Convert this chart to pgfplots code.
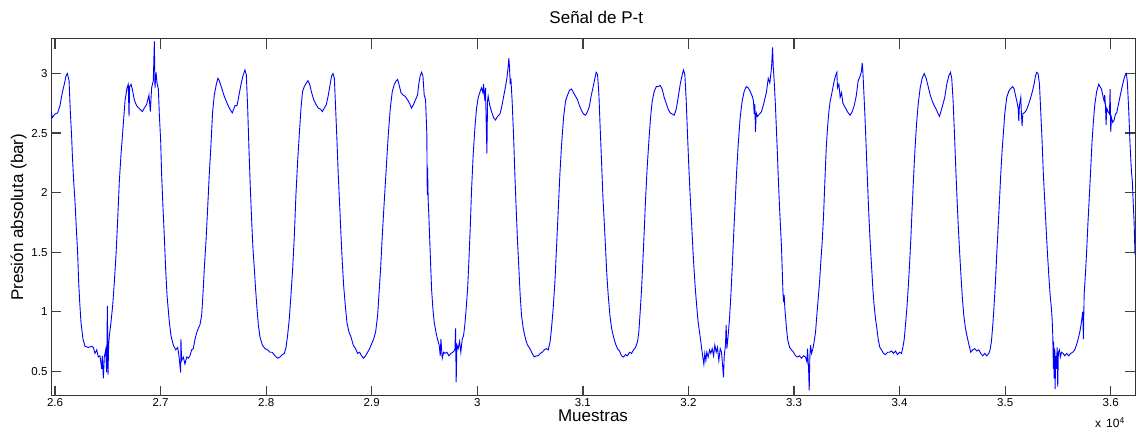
\documentclass[border=0pt]{standalone}
\usepackage{fontspec}
\setmainfont{Liberation Sans}
\usepackage{pgfplots}
\pgfplotsset{compat=1.18}
\begin{document}
\begin{tikzpicture}
\path[use as bounding box] (0pt,0pt) rectangle (1137pt,431pt);
\begin{axis}[
  at={(51pt,35.3pt)}, anchor=south west,
  scale only axis, width=1084pt, height=356.7pt,
  xmin=25962, xmax=36230, ymin=0.295, ymax=3.29,
  xtick={26000,27000,28000,29000,30000,31000,32000,33000,34000,35000,36000},
  xticklabels={2.6,2.7,2.8,2.9,3,3.1,3.2,3.3,3.4,3.5,3.6},
  ytick={0.5,1,1.5,2,2.5,3},
  yticklabels={0.5,1,1.5,2,2.5,3},
  scaled ticks=false,
  tick align=inside,
  major tick length=10pt,
  tick style={black!75, line width=1.3pt},
  axis line style={black!80, line width=1pt},
  ticklabel style={font=\fontsize{11.5}{13}\selectfont, text=black},
  xticklabel style={anchor=base, yshift=-10.5pt},
  yticklabel style={anchor=east, xshift=0pt},
  /pgf/number format/assume math mode=true,
  title={Señal de P-t},
  title style={at={(axis description cs:0.503,1.028)}, anchor=base, font=\fontsize{17}{20}\selectfont},
  xlabel={Muestras},
  xlabel style={at={(axis description cs:0.5,-0.0729)}, anchor=base, font=\fontsize{17}{20}\selectfont},
  ylabel={Presión absoluta (bar)},
  ylabel style={at={(axis description cs:-0.0258,0.5)}, anchor=base, font=\fontsize{17}{20}\selectfont},
]
\pgfplotsinvokeforeach{26000,27000,28000,29000,30000,31000,32000,33000,34000,35000,36000}{
  \draw[black!75, line width=1.3pt] (axis cs:#1,0.295) -- ++(0pt,10pt);
  \draw[black!75, line width=1.3pt] (axis cs:#1,3.29) -- ++(0pt,-10pt);
}
\pgfplotsinvokeforeach{0.5,1,1.5,2,2.5,3}{
  \draw[black!75, line width=1.3pt] (axis cs:25962,#1) -- ++(10pt,0pt);
  \draw[black!75, line width=1.3pt] (axis cs:36230,#1) -- ++(-10pt,0pt);
}
\addplot[color=blue, line width=0.9pt, mark=none] coordinates {
(25962,2.69) (25974,2.63) (26000,2.66) (26025,2.67) (26047,2.73) (26069,2.84) (26088,2.91) (26104,2.98) (26117,3.00) (26133,2.94)
(26145,2.68) (26158,2.46) (26164,2.32) (26177,2.09) (26189,1.93) (26202,1.70) (26215,1.48) (26224,1.25) (26234,1.08) (26246,0.91)
(26265,0.77) (26284,0.71) (26316,0.70) (26347,0.71) (26363,0.70) (26379,0.65) (26395,0.68) (26410,0.62) (26426,0.63) (26442,0.52)
(26448,0.63) (26458,0.44) (26467,0.62) (26480,0.68) (26489,0.49) (26496,1.05) (26502,0.47) (26508,0.72) (26515,0.80) (26530,0.91)
(26546,1.05) (26562,1.25) (26578,1.48) (26593,1.76) (26609,2.09) (26625,2.32) (26644,2.54) (26663,2.77) (26682,2.88) (26694,2.91)
(26701,2.64) (26707,2.89) (26720,2.91) (26732,2.87) (26751,2.78) (26773,2.73) (26805,2.70) (26827,2.68) (26846,2.71) (26868,2.74)
(26890,2.82) (26903,2.68) (26915,2.88) (26931,2.94) (26941,3.27) (26947,2.88) (26957,3.01) (26966,2.92) (26979,2.87) (26988,2.66)
(27001,2.43) (27010,2.15) (27023,1.87) (27035,1.64) (27048,1.36) (27061,1.14) (27080,0.94) (27098,0.80) (27121,0.72) (27143,0.68)
(27162,0.70) (27174,0.63) (27190,0.49) (27193,0.77) (27199,0.59) (27215,0.62) (27231,0.56) (27247,0.62) (27263,0.61) (27278,0.63)
(27294,0.68) (27310,0.69) (27326,0.77) (27341,0.82) (27357,0.86) (27373,0.89) (27389,0.97) (27401,1.14) (27414,1.36) (27430,1.59)
(27446,1.87) (27461,2.15) (27477,2.40) (27493,2.68) (27509,2.82) (27528,2.91) (27543,2.96) (27556,2.94) (27578,2.88) (27603,2.81)
(27635,2.74) (27657,2.70) (27679,2.67) (27705,2.73) (27724,2.73) (27743,2.82) (27762,2.91) (27780,2.98) (27799,3.03) (27812,2.99)
(27825,2.71) (27837,2.37) (27850,2.04) (27863,1.76) (27875,1.53) (27888,1.36) (27900,1.19) (27913,1.03) (27926,0.89) (27941,0.79)
(27964,0.72) (27989,0.69) (28014,0.68) (28036,0.66) (28058,0.66) (28083,0.63) (28109,0.61) (28131,0.62) (28153,0.64) (28172,0.65)
(28188,0.70) (28203,0.80) (28219,0.94) (28235,1.14) (28251,1.36) (28267,1.64) (28282,1.98) (28298,2.26) (28314,2.49) (28330,2.71)
(28345,2.85) (28361,2.89) (28380,2.92) (28396,2.94) (28412,2.91) (28431,2.84) (28450,2.78) (28472,2.74) (28494,2.71) (28516,2.70)
(28532,2.68) (28551,2.71) (28570,2.74) (28589,2.82) (28608,2.92) (28620,2.98) (28633,3.00) (28646,2.96) (28658,2.71) (28671,2.43)
(28683,2.15) (28696,1.90) (28709,1.64) (28721,1.42) (28734,1.22) (28750,1.05) (28765,0.91) (28784,0.83) (28803,0.79) (28825,0.72)
(28847,0.69) (28866,0.65) (28885,0.66) (28904,0.63) (28923,0.61) (28942,0.63) (28961,0.66) (28980,0.69) (28999,0.73) (29018,0.77)
(29037,0.83) (29056,0.97) (29068,1.14) (29084,1.36) (29100,1.64) (29119,1.93) (29138,2.21) (29157,2.49) (29176,2.71) (29195,2.85)
(29214,2.91) (29233,2.94) (29245,2.95) (29258,2.91) (29277,2.84) (29296,2.82) (29315,2.81) (29346,2.77) (29358,2.75) (29377,2.71)
(29396,2.74) (29415,2.78) (29434,2.82) (29447,2.92) (29459,2.98) (29472,3.01) (29485,2.98) (29497,2.82) (29510,2.78) (29522,2.49)
(29526,1.98) (29529,2.21) (29535,1.93) (29541,1.81) (29548,1.64) (29557,1.42) (29567,1.19) (29579,1.03) (29592,0.91) (29608,0.83)
(29623,0.77) (29639,0.72) (29649,0.63) (29655,0.77) (29668,0.61) (29681,0.66) (29693,0.65) (29712,0.66) (29731,0.63) (29750,0.65)
(29769,0.66) (29788,0.68) (29794,0.86) (29800,0.41) (29807,0.72) (29819,0.69) (29832,0.75) (29844,0.66) (29857,0.77) (29870,0.80)
(29882,0.89) (29895,1.03) (29908,1.19) (29920,1.42) (29933,1.70) (29945,2.01) (29961,2.32) (29977,2.54) (29993,2.71) (30009,2.80)
(30027,2.85) (30040,2.88) (30053,2.84) (30059,2.91) (30072,2.77) (30078,2.88) (30084,2.60) (30091,2.33) (30097,2.77) (30103,2.81)
(30116,2.74) (30135,2.68) (30154,2.63) (30173,2.61) (30192,2.64) (30214,2.66) (30229,2.71) (30248,2.80) (30267,2.89) (30280,2.96)
(30293,3.06) (30299,3.13) (30305,3.05) (30312,2.91) (30318,2.96) (30330,2.77) (30343,2.49) (30356,2.15) (30368,1.87) (30381,1.59)
(30394,1.36) (30406,1.14) (30419,0.97) (30435,0.86) (30457,0.77) (30476,0.72) (30498,0.69) (30520,0.65) (30539,0.62) (30558,0.63)
(30577,0.63) (30596,0.65) (30615,0.66) (30634,0.68) (30653,0.69) (30672,0.68) (30690,0.75) (30703,0.86) (30719,1.03) (30735,1.25)
(30750,1.53) (30766,1.84) (30782,2.15) (30798,2.40) (30817,2.63) (30836,2.77) (30855,2.82) (30874,2.86) (30893,2.87) (30911,2.84)
(30930,2.81) (30949,2.78) (30968,2.73) (30987,2.69) (31006,2.66) (31025,2.65) (31044,2.68) (31063,2.73) (31076,2.80) (31095,2.88)
(31114,2.96) (31126,3.01) (31139,2.99) (31152,2.82) (31164,2.54) (31177,2.26) (31189,1.98) (31202,1.76) (31215,1.53) (31227,1.31)
(31240,1.14) (31256,0.97) (31272,0.86) (31290,0.79) (31309,0.73) (31328,0.69) (31347,0.67) (31366,0.63) (31385,0.62) (31404,0.64)
(31423,0.63) (31442,0.66) (31461,0.65) (31480,0.68) (31499,0.70) (31518,0.75) (31530,0.83) (31543,1.00) (31556,1.19) (31568,1.42)
(31581,1.67) (31593,1.93) (31609,2.21) (31625,2.43) (31641,2.63) (31657,2.77) (31676,2.85) (31695,2.89) (31713,2.89) (31732,2.90)
(31751,2.87) (31770,2.80) (31789,2.75) (31808,2.70) (31827,2.67) (31846,2.66) (31865,2.65) (31884,2.70) (31903,2.80) (31922,2.91)
(31941,2.99) (31953,3.03) (31966,2.99) (31979,2.77) (31991,2.49) (32004,2.21) (32016,1.98) (32029,1.76) (32042,1.53) (32054,1.34)
(32067,1.17) (32080,1.03) (32092,0.91) (32105,0.83) (32111,0.79) (32124,0.70) (32136,0.62) (32146,0.56) (32155,0.65) (32165,0.59)
(32174,0.66) (32187,0.62) (32200,0.68) (32212,0.65) (32225,0.69) (32238,0.63) (32250,0.72) (32263,0.66) (32275,0.70) (32288,0.59)
(32301,0.69) (32313,0.66) (32326,0.52) (32332,0.45) (32339,0.63) (32351,0.72) (32357,0.89) (32364,0.69) (32376,0.80) (32389,0.94)
(32402,1.14) (32414,1.36) (32427,1.62) (32440,1.87) (32455,2.15) (32471,2.40) (32490,2.63) (32509,2.77) (32528,2.85) (32547,2.89)
(32566,2.88) (32585,2.85) (32604,2.81) (32616,2.77) (32623,2.66) (32629,2.74) (32635,2.51) (32642,2.67) (32654,2.64) (32673,2.66)
(32692,2.68) (32711,2.74) (32730,2.81) (32740,2.85) (32756,2.96) (32771,2.92) (32787,3.05) (32797,3.22) (32803,3.06) (32812,2.94)
(32825,2.71) (32838,2.43) (32850,2.15) (32863,1.87) (32876,1.64) (32882,1.53) (32888,1.36) (32894,1.19) (32901,1.08) (32907,1.14)
(32913,1.03) (32926,0.89) (32939,0.77) (32958,0.70) (32977,0.68) (32995,0.66) (33014,0.63) (33033,0.62) (33052,0.63) (33071,0.61)
(33090,0.63) (33109,0.62) (33122,0.58) (33128,0.69) (33138,0.52) (33144,0.34) (33150,0.63) (33157,0.72) (33166,0.65) (33179,0.69)
(33191,0.75) (33204,0.83) (33216,0.97) (33229,1.11) (33242,1.25) (33254,1.42) (33267,1.59) (33280,1.81) (33292,2.09) (33305,2.37)
(33317,2.54) (33330,2.68) (33343,2.77) (33355,2.82) (33368,2.88) (33381,2.94) (33393,2.98) (33406,3.01) (33412,2.88) (33425,2.91)
(33437,2.80) (33450,2.84) (33463,2.75) (33475,2.73) (33494,2.70) (33513,2.67) (33532,2.65) (33551,2.68) (33570,2.73) (33589,2.81)
(33608,2.94) (33627,2.98) (33639,3.02) (33646,3.09) (33652,3.02) (33658,2.91) (33671,2.66) (33684,2.37) (33696,2.09) (33709,1.81)
(33721,1.59) (33734,1.39) (33747,1.19) (33759,1.05) (33772,0.94) (33785,0.86) (33797,0.77) (33813,0.70) (33829,0.68) (33848,0.65)
(33867,0.64) (33886,0.66) (33905,0.66) (33924,0.67) (33942,0.65) (33961,0.67) (33980,0.64) (33999,0.66) (34018,0.65) (34031,0.70)
(34044,0.77) (34056,0.89) (34069,1.03) (34081,1.19) (34094,1.39) (34107,1.62) (34119,1.87) (34132,2.12) (34145,2.35) (34160,2.57)
(34176,2.74) (34195,2.88) (34214,2.96) (34233,3.00) (34252,2.96) (34271,2.89) (34290,2.82) (34309,2.77) (34328,2.73) (34347,2.70)
(34366,2.66) (34378,2.64) (34391,2.68) (34410,2.74) (34428,2.80) (34447,2.91) (34466,2.98) (34482,3.01) (34494,2.96) (34507,2.77)
(34520,2.49) (34532,2.21) (34545,1.93) (34557,1.70) (34570,1.48) (34583,1.28) (34595,1.11) (34608,0.97) (34624,0.86) (34640,0.79)
(34655,0.73) (34674,0.66) (34693,0.68) (34712,0.69) (34731,0.67) (34750,0.68) (34769,0.65) (34788,0.63) (34807,0.65) (34826,0.63)
(34845,0.65) (34857,0.68) (34870,0.75) (34883,0.89) (34895,1.05) (34908,1.25) (34920,1.48) (34933,1.70) (34946,1.93) (34958,2.15)
(34971,2.35) (34984,2.51) (34996,2.66) (35015,2.80) (35034,2.85) (35047,2.87) (35059,2.88) (35072,2.89) (35085,2.87) (35097,2.82)
(35110,2.77) (35123,2.71) (35129,2.60) (35135,2.73) (35148,2.80) (35154,2.66) (35160,2.56) (35167,2.66) (35179,2.67) (35192,2.68)
(35205,2.70) (35217,2.73) (35236,2.78) (35255,2.84) (35274,2.91) (35287,2.98) (35299,3.01) (35312,3.00) (35325,2.91) (35337,2.68)
(35350,2.43) (35362,2.15) (35375,1.93) (35388,1.70) (35400,1.50) (35413,1.31) (35426,1.14) (35438,1.03) (35445,0.94) (35451,0.80)
(35457,0.52) (35460,0.75) (35464,0.44) (35470,0.69) (35473,0.35) (35479,0.63) (35486,0.52) (35492,0.70) (35498,0.37) (35504,0.66)
(35514,0.68) (35523,0.62) (35533,0.66) (35549,0.65) (35564,0.63) (35583,0.65) (35602,0.63) (35621,0.65) (35640,0.66) (35659,0.68)
(35675,0.72) (35691,0.77) (35707,0.83) (35722,0.91) (35735,1.00) (35741,0.77) (35748,1.14) (35760,1.31) (35773,1.53) (35785,1.76)
(35798,1.98) (35811,2.21) (35823,2.43) (35836,2.60) (35849,2.74) (35867,2.85) (35886,2.91) (35899,2.89) (35912,2.87) (35924,2.82)
(35937,2.77) (35943,2.82) (35950,2.73) (35956,2.57) (35962,2.71) (35975,2.68) (35988,2.66) (35994,2.87) (36000,2.51) (36007,2.63)
(36019,2.59) (36032,2.61) (36045,2.66) (36057,2.67) (36070,2.73) (36089,2.81) (36108,2.89) (36127,2.96) (36139,2.99) (36149,3.00)
(36158,2.92) (36171,2.68) (36183,2.40) (36196,2.18) (36205,2.09) (36215,1.87) (36221,1.76) (36230,1.48)
};
\end{axis}
\node[anchor=base west, font=\fontsize{12}{14}\selectfont, inner sep=0pt] at (1095pt,3.3pt) {x\hspace{5pt}10\raisebox{4.5pt}{\fontsize{8.5}{9}\selectfont 4}};
\end{tikzpicture}
\end{document}
